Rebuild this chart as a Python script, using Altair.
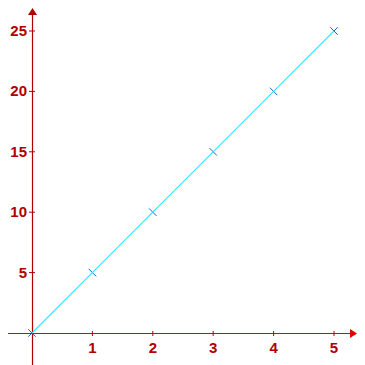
import altair as alt
import pandas as pd

# data
xs = [0, 1, 2, 3, 4, 5]
ys = [0, 5, 10, 15, 20, 25]
x_ticks = [1, 2, 3, 4, 5]
y_ticks = [5, 10, 15, 20, 25]

PX_X = 60.4      # pixels per x unit
PX_Y = 12.08     # pixels per y unit
W, H = 325, 325
XMAX, YMAX = W / PX_X, H / PX_Y

pts = pd.DataFrame({"x": xs, "y": ys})
xt = pd.DataFrame({"v": x_ticks, "lab": [str(v) for v in x_ticks]})
yt = pd.DataFrame({"v": y_ticks, "lab": [str(v) for v in y_ticks]})
one = pd.DataFrame({"a": [0]})

xs_ = alt.Scale(domain=[0, XMAX], nice=False, zero=False)
ys_ = alt.Scale(domain=[0, YMAX], nice=False, zero=False)

XRED = "#e00000"
YRED = "#b00000"
LAB = "#b00000"

# axes lines (decoration)
x_axis = alt.Chart(one).mark_rule(color=XRED, strokeWidth=1.2, clip=False).encode(
    x=alt.value(-24), x2=alt.value(W - 4), y=alt.value(H + 0.5))
y_axis = alt.Chart(one).mark_rule(color=YRED, strokeWidth=1.2, clip=False).encode(
    x=alt.value(0.5), y=alt.value(6), y2=alt.value(H + 40))

x_arrow = alt.Chart(one).mark_point(
    shape="M1,0L-1,1.3L-1,-1.3Z", size=49, filled=True, color=XRED, opacity=1, clip=False
).encode(x=alt.value(W - 3.5), y=alt.value(H + 0.5))
y_arrow = alt.Chart(one).mark_point(
    shape="M0,-1L1.3,1L-1.3,1Z", size=49, filled=True, color=YRED, opacity=1, clip=False
).encode(x=alt.value(0.5), y=alt.value(3.5))

x_tk = alt.Chart(xt).mark_rule(color=YRED, strokeWidth=1, clip=False).encode(
    x=alt.X("v:Q", scale=xs_, axis=None), y=alt.value(H - 2), y2=alt.value(H + 3))
y_tk = alt.Chart(yt).mark_rule(color=YRED, strokeWidth=1, clip=False).encode(
    y=alt.Y("v:Q", scale=ys_, axis=None), x=alt.value(-3), x2=alt.value(3))

x_lab = alt.Chart(xt).mark_text(
    color=LAB, font="Liberation Sans", fontSize=15, fontWeight="bold",
    align="center", baseline="middle", clip=False
).encode(x=alt.X("v:Q", scale=xs_, axis=None), y=alt.value(H + 15), text="lab:N")
y_lab = alt.Chart(yt).mark_text(
    color=LAB, font="Liberation Sans", fontSize=15, fontWeight="bold",
    align="right", baseline="middle", clip=False
).encode(y=alt.Y("v:Q", scale=ys_, axis=None), x=alt.value(-5), text="lab:N")

markers = alt.Chart(pts).mark_point(
    shape="M-1,-1L1,1M-1,1L1,-1", size=56, filled=False, color="#1a5fd6",
    strokeWidth=1, opacity=1, clip=False
).encode(x=alt.X("x:Q", scale=xs_, axis=None), y=alt.Y("y:Q", scale=ys_, axis=None))

line = alt.Chart(pts).mark_line(color="#33e8ff", strokeWidth=1.2, clip=False).encode(
    x=alt.X("x:Q", scale=xs_, axis=None), y=alt.Y("y:Q", scale=ys_, axis=None))

chart = alt.layer(
    x_axis, y_axis, x_tk, y_tk, x_arrow, y_arrow, x_lab, y_lab, markers, line
).properties(
    width=W, height=H,
    background="white",
    autosize=alt.AutoSizeParams(type="none"),
    padding={"left": 24, "top": 0, "right": 0, "bottom": 32},
).configure_view(stroke="transparent", strokeWidth=0)

chart.save("out.html", embed_options={"renderer": "svg", "actions": False})
